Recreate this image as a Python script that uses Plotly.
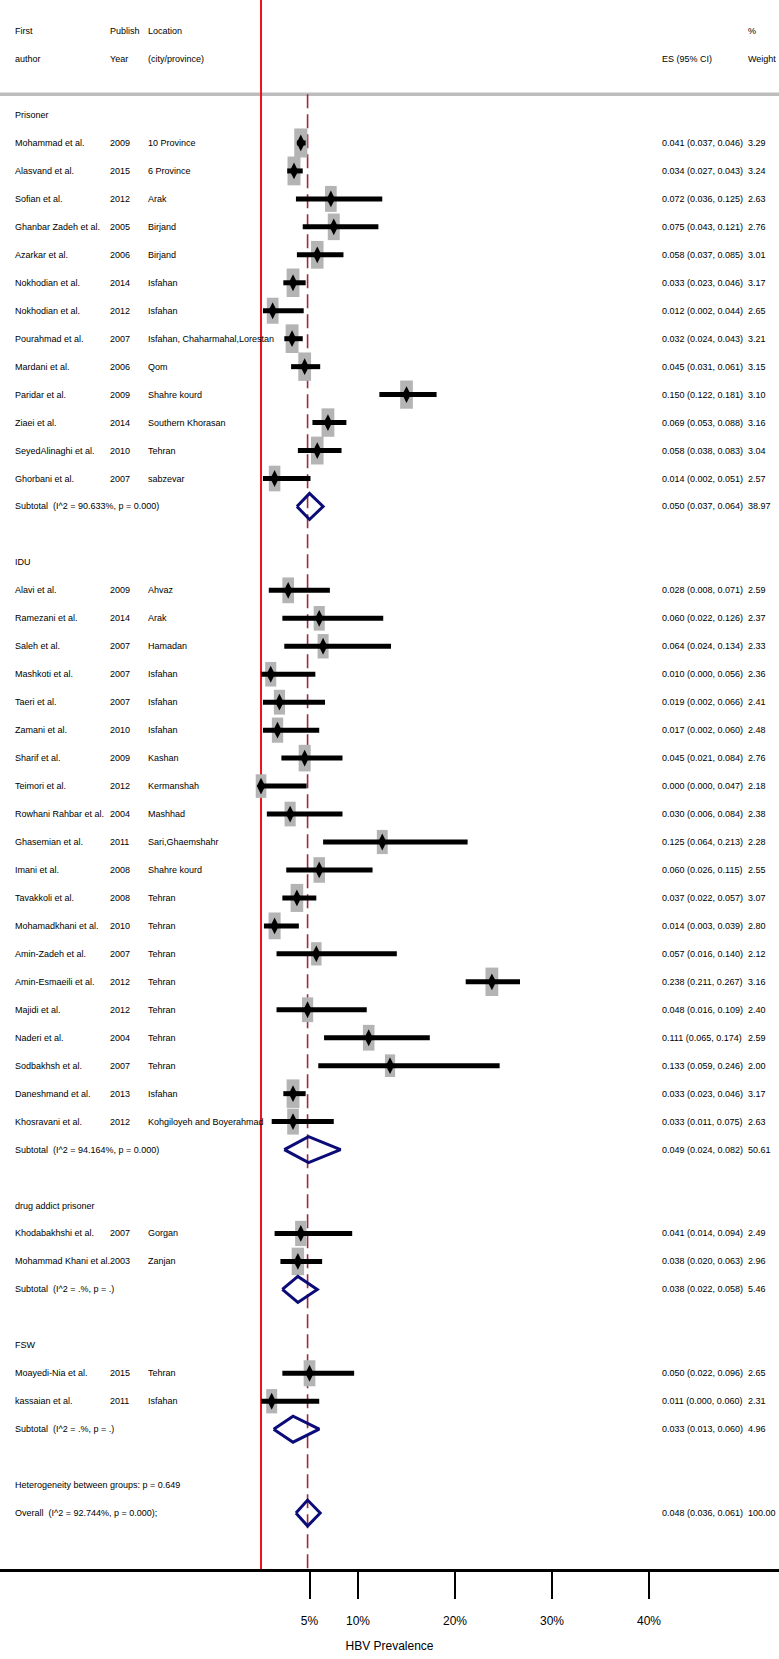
import plotly.graph_objects as go
import math

# Studies
groups = ["Prisoner", "IDU", "drug addict prisoner", "FSW"]
group_n = [13, 20, 2, 2]

authors = [
    "Mohammad et al.", "Alasvand et al.", "Sofian et al.", "Ghanbar Zadeh et al.", "Azarkar et al.",
    "Nokhodian et al.", "Nokhodian et al.", "Pourahmad et al.", "Mardani et al.", "Paridar et al.",
    "Ziaei et al.", "SeyedAlinaghi et al.", "Ghorbani et al.",
    "Alavi et al.", "Ramezani et al.", "Saleh et al.", "Mashkoti et al.", "Taeri et al.",
    "Zamani et al.", "Sharif et al.", "Teimori et al.", "Rowhani Rahbar et al.", "Ghasemian et al.",
    "Imani et al.", "Tavakkoli et al.", "Mohamadkhani et al.", "Amin-Zadeh et al.", "Amin-Esmaeili et al.",
    "Majidi et al.", "Naderi et al.", "Sodbakhsh et al.", "Daneshmand et al.", "Khosravani et al.",
    "Khodabakhshi et al.", "Mohammad Khani et al.",
    "Moayedi-Nia et al.", "kassaian et al.",
]
years = [
    2009, 2015, 2012, 2005, 2006, 2014, 2012, 2007, 2006, 2009, 2014, 2010, 2007,
    2009, 2014, 2007, 2007, 2007, 2010, 2009, 2012, 2004, 2011, 2008, 2008, 2010, 2007, 2012,
    2012, 2004, 2007, 2013, 2012,
    2007, 2003,
    2015, 2011,
]
locations = [
    "10 Province", "6 Province", "Arak", "Birjand", "Birjand", "Isfahan", "Isfahan",
    "Isfahan, Chaharmahal,Lorestan", "Qom", "Shahre kourd", "Southern Khorasan", "Tehran", "sabzevar",
    "Ahvaz", "Arak", "Hamadan", "Isfahan", "Isfahan", "Isfahan", "Kashan", "Kermanshah", "Mashhad",
    "Sari,Ghaemshahr", "Shahre kourd", "Tehran", "Tehran", "Tehran", "Tehran", "Tehran", "Tehran",
    "Tehran", "Isfahan", "Kohgiloyeh and Boyerahmad",
    "Gorgan", "Zanjan",
    "Tehran", "Isfahan",
]
es = [
    0.041, 0.034, 0.072, 0.075, 0.058, 0.033, 0.012, 0.032, 0.045, 0.150, 0.069, 0.058, 0.014,
    0.028, 0.060, 0.064, 0.010, 0.019, 0.017, 0.045, 0.000, 0.030, 0.125, 0.060, 0.037, 0.014,
    0.057, 0.238, 0.048, 0.111, 0.133, 0.033, 0.033,
    0.041, 0.038,
    0.050, 0.011,
]
lci = [
    0.037, 0.027, 0.036, 0.043, 0.037, 0.023, 0.002, 0.024, 0.031, 0.122, 0.053, 0.038, 0.002,
    0.008, 0.022, 0.024, 0.000, 0.002, 0.002, 0.021, 0.000, 0.006, 0.064, 0.026, 0.022, 0.003,
    0.016, 0.211, 0.016, 0.065, 0.059, 0.023, 0.011,
    0.014, 0.020,
    0.022, 0.000,
]
uci = [
    0.046, 0.043, 0.125, 0.121, 0.085, 0.046, 0.044, 0.043, 0.061, 0.181, 0.088, 0.083, 0.051,
    0.071, 0.126, 0.134, 0.056, 0.066, 0.060, 0.084, 0.047, 0.084, 0.213, 0.115, 0.057, 0.039,
    0.140, 0.267, 0.109, 0.174, 0.246, 0.046, 0.075,
    0.094, 0.063,
    0.096, 0.060,
]
weights = [
    3.29, 3.24, 2.63, 2.76, 3.01, 3.17, 2.65, 3.21, 3.15, 3.10, 3.16, 3.04, 2.57,
    2.59, 2.37, 2.33, 2.36, 2.41, 2.48, 2.76, 2.18, 2.38, 2.28, 2.55, 3.07, 2.80, 2.12, 3.16,
    2.40, 2.59, 2.00, 3.17, 2.63,
    2.49, 2.96,
    2.65, 2.31,
]

# Subtotals per group
sub_i2 = ["90.633%", "94.164%", ".%", ".%"]
sub_p = ["0.000", "0.000", ".", "."]
sub_es = [0.050, 0.049, 0.038, 0.033]
sub_lci = [0.037, 0.024, 0.022, 0.013]
sub_uci = [0.064, 0.082, 0.058, 0.060]
sub_w = [38.97, 50.61, 5.46, 4.96]

# Overall
het_p = "0.649"
overall_i2 = "92.744%"
overall_p = "0.000"
overall_es, overall_lci, overall_uci, overall_w = 0.048, 0.036, 0.061, 100.00

tick_vals = [0.05, 0.10, 0.20, 0.30, 0.40]
tick_text = ["5%", "10%", "20%", "30%", "40%"]

# ---- layout constants ----
W, H = 779, 1659
BOTTOM = 90
XMIN, XMAX = -0.2691, 0.5340
YMIN, YMAX = -3.113, 53.0          # row units, reversed
PX_X = W / (XMAX - XMIN)
PX_ROW = (H - BOTTOM) / (YMAX - YMIN)
FONT = "Liberation Sans, Arial, sans-serif"
FS = 9
COL_AUTHOR, COL_YEAR, COL_LOC, COL_ES, COL_W = 12.7, 108, 145.7, 660, 746

# assign rows
study_rows, group_rows, sub_rows = [], [], []
row = 1
for g, n in zip(groups, group_n):
    group_rows.append(row)
    row += 1
    for _ in range(n):
        study_rows.append(row)
        row += 1
    sub_rows.append(row)
    row += 2
het_row = row
overall_row = row + 1

fig = go.Figure()
ann = []


def txt(xpx, r, s, size=FS):
    ann.append(dict(x=xpx / W, y=r, xref="paper", yref="y", text=s, showarrow=False,
                    xanchor="left", yanchor="middle", font=dict(family=FONT, size=size, color="black")))


# header
txt(COL_AUTHOR, -2, "First"); txt(COL_AUTHOR, -1, "author")
txt(COL_YEAR, -2, "Publish"); txt(COL_YEAR, -1, "Year")
txt(COL_LOC, -2, "Location"); txt(COL_LOC, -1, "(city/province)")
txt(COL_ES, -1, "ES (95% CI)")
txt(COL_W, -2, "%"); txt(COL_W, -1, "Weight")

for g, r in zip(groups, group_rows):
    txt(COL_AUTHOR, r, g)

for i, r in enumerate(study_rows):
    txt(COL_AUTHOR, r, authors[i])
    txt(COL_YEAR, r, str(years[i]))
    txt(COL_LOC, r, locations[i])
    txt(COL_ES, r, f"{es[i]:.3f} ({lci[i]:.3f}, {uci[i]:.3f})")
    txt(COL_W, r, f"{weights[i]:.2f}")

for j, r in enumerate(sub_rows):
    txt(COL_AUTHOR, r, f"Subtotal\u00a0 (I^2 = {sub_i2[j]}, p = {sub_p[j]})")
    txt(COL_ES, r, f"{sub_es[j]:.3f} ({sub_lci[j]:.3f}, {sub_uci[j]:.3f})")
    txt(COL_W, r, f"{sub_w[j]:.2f}")

txt(COL_AUTHOR, het_row, f"Heterogeneity between groups: p = {het_p}")
txt(COL_AUTHOR, overall_row, f"Overall\u00a0 (I^2 = {overall_i2}, p = {overall_p});")
txt(COL_ES, overall_row, f"{overall_es:.3f} ({overall_lci:.3f}, {overall_uci:.3f})")
txt(COL_W, overall_row, f"{overall_w:.2f}")

shapes = []
# dashed line at overall estimate
shapes.append(dict(type="line", xref="x", yref="y", x0=overall_es, x1=overall_es, y0=0.26, y1=YMAX,
                   line=dict(color="#9b2c3a", width=1.6, dash="14px,6px"), layer="below"))
# weight boxes
for i, r in enumerate(study_rows):
    bw = 7.2 * math.sqrt(weights[i]) / PX_X
    bh = 16.0 * math.sqrt(weights[i]) / PX_ROW
    shapes.append(dict(type="rect", xref="x", yref="y", x0=es[i] - bw / 2, x1=es[i] + bw / 2,
                       y0=r - bh / 2, y1=r + bh / 2, fillcolor="#b4b4b4", line=dict(width=0), layer="below"))
# header rule
shapes.append(dict(type="line", xref="paper", yref="y", x0=0, x1=1, y0=0.26, y1=0.26,
                   line=dict(color="#bdbdbd", width=3.5), layer="below"))
# null line
shapes.append(dict(type="line", xref="x", yref="paper", x0=0, x1=0, y0=0, y1=1,
                   line=dict(color="#e8141c", width=2), layer="below"))

# CI lines
cx, cy = [], []
for i, r in enumerate(study_rows):
    cx += [lci[i], uci[i], None]
    cy += [r, r, None]
fig.add_trace(go.Scatter(x=cx, y=cy, mode="lines", line=dict(color="black", width=5), hoverinfo="skip"))
fig.add_trace(go.Scatter(x=es, y=study_rows, mode="markers",
                         marker=dict(symbol="diamond-tall", size=12, color="black")))

# pooled diamonds
dh = 13 / PX_ROW
dx, dy = [], []
for e, lo, hi, r in zip(sub_es + [overall_es], sub_lci + [overall_lci], sub_uci + [overall_uci],
                        sub_rows + [overall_row]):
    dx += [lo, e, hi, e, lo, None]
    dy += [r, r - dh, r, r + dh, r, None]
fig.add_trace(go.Scatter(x=dx, y=dy, mode="lines", line=dict(color="#0c0c78", width=3)))

fig.update_layout(
    template="none", width=W, height=H, margin=dict(l=0, r=0, t=0, b=BOTTOM),
    plot_bgcolor="white", paper_bgcolor="white", showlegend=False,
    annotations=ann, shapes=shapes,
    xaxis=dict(range=[XMIN, XMAX], tickvals=tick_vals, ticktext=tick_text, ticks="outside",
               ticklen=27, tickwidth=2, tickcolor="black", showline=True, linewidth=3,
               linecolor="black", showgrid=False, zeroline=False, automargin=False,
               tickfont=dict(family=FONT, size=12, color="black"), ticklabelstandoff=12,
               title=dict(text="HBV Prevalence", font=dict(family=FONT, size=12, color="black"),
                          standoff=15)),
    yaxis=dict(range=[YMAX, YMIN], visible=False, showgrid=False, zeroline=False),
)

# page body has a default 8px margin; drop it so the figure sits at the window corner
fig.write_html("out.html", config={"displayModeBar": False},
               post_script="document.body.style.margin='0';")
